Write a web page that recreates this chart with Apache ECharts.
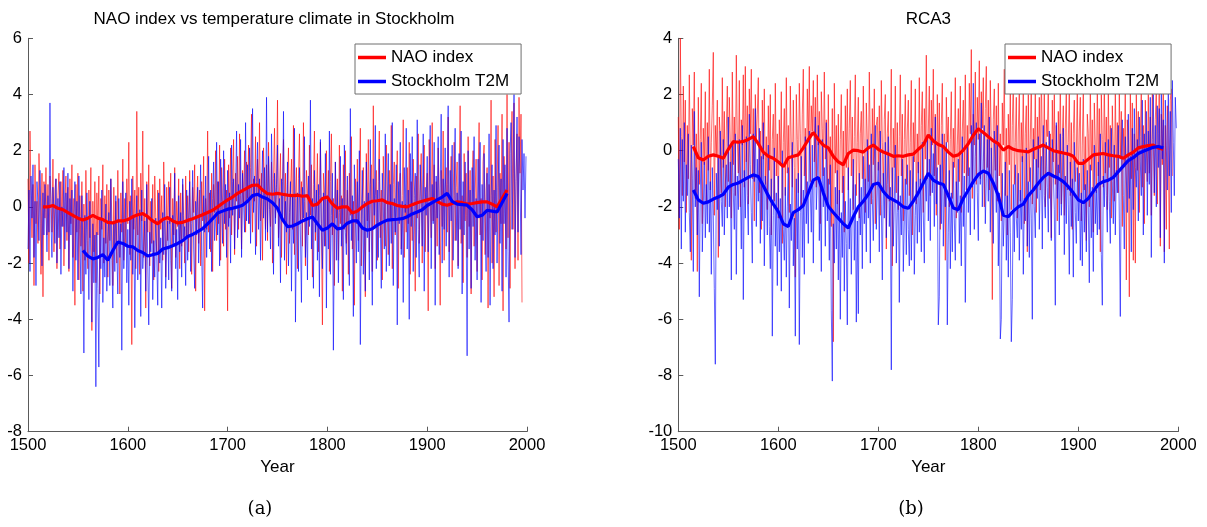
<!DOCTYPE html>
<html>
<head>
<meta charset="utf-8">
<script src="https://cdn.jsdelivr.net/npm/echarts@6/dist/echarts.min.js"></script>
<style>
  html, body { margin: 0; padding: 0; background: #ffffff; }
  #chart { width: 1207px; height: 527px; }
</style>
</head>
<body>
<div id="chart"></div>
<script>
// ---- Data -------------------------------------------------------------
// Annual series start in 1500; running means are sampled every 5 years.
const FIRST_YEAR = 1500;
const SMOOTH_STEP = 5;
const xTicks = [1500, 1600, 1700, 1800, 1900, 2000];
const yRangeA = [-8, 6];
const yRangeB = [-10, 4];
const legendNames = ['NAO index', 'Stockholm T2M'];

// Panel (a): reconstruction, NAO index (annual, 1500-1995)
const naoAnnualA = [
  1.0,-2.0,2.7,0.4,-1.1,0.8,-2.8,1.5,-0.6,0.2,
  -1.3,1.9,0.5,-2.4,1.2,-3.2,0.9,-0.4,1.4,-1.0,
  0.8,-1.9,1.1,0.3,-0.9,1.7,-1.6,0.6,1.0,-2.2,
  0.4,1.2,-1.5,0.9,-0.7,1.3,-2.1,0.2,1.1,-1.2,
  0.7,-2.3,1.0,-0.6,1.5,-1.8,0.3,-3.5,0.8,-0.9,
  1.2,-2.6,0.4,-1.4,0.9,-3.0,0.1,-1.9,1.3,-0.8,
  -2.2,0.6,-1.1,1.4,-4.4,0.2,-1.6,0.9,-2.7,0.5,
  -1.0,1.1,-3.1,0.3,-0.8,1.5,-2.0,0.4,-1.3,0.8,
  -2.5,0.6,-1.2,1.0,-0.4,-2.8,0.7,-1.5,0.2,-2.0,
  1.3,-1.0,-3.1,0.5,-0.9,1.7,-1.9,0.3,-1.4,1.0,
  -0.6,2.3,-1.7,0.4,-4.9,1.1,-0.8,0.6,-2.2,3.4,
  -1.0,0.7,-2.4,1.2,-0.5,2.7,-1.8,0.3,-3.6,0.9,
  -0.9,1.5,-2.1,0.2,-1.3,0.8,-2.6,1.1,-0.4,-1.7,
  0.6,-2.3,1.0,-0.8,0.4,-1.9,1.6,-0.3,-2.5,0.7,
  -1.2,0.9,-0.6,1.2,-2.9,0.3,-1.0,1.4,-1.8,0.2,
  -0.7,1.0,-2.2,0.5,-1.4,0.8,-0.3,-2.0,1.1,-1.1,
  0.4,-1.6,1.3,-0.9,-2.4,0.7,-0.2,1.5,-3.0,0.2,
  1.1,-1.3,0.6,-2.1,0.9,-0.5,1.8,-3.7,0.3,-0.8,
  2.7,-0.9,0.5,-1.6,1.2,-2.3,0.8,-0.2,2.0,-1.2,
  0.9,-0.6,2.2,-1.9,1.4,0.1,-1.4,1.7,-0.8,0.6,
  -3.7,1.5,-0.4,2.1,-1.0,0.9,2.4,-1.7,1.2,0.2,
  1.8,-0.8,2.6,0.4,-1.5,1.3,0.1,2.0,-0.9,1.6,
  0.3,2.2,-0.6,1.4,3.3,-0.9,1.0,0.2,2.5,-1.4,
  1.7,0.4,3.0,-0.5,1.2,-1.9,2.1,0.6,-0.8,1.5,
  -1.2,2.3,0.3,-0.7,1.6,-2.0,1.0,2.8,-0.4,0.7,
  3.8,-1.1,0.6,1.9,-1.8,0.9,2.4,-0.6,1.2,-2.4,
  0.8,2.1,-1.3,0.5,1.7,-0.8,2.9,-1.7,0.3,1.4,
  -2.2,1.0,2.6,-0.5,0.9,-1.4,3.0,0.2,-2.1,1.3,
  0.6,-1.0,2.2,-0.3,1.5,-2.5,0.8,2.7,-1.2,0.1,
  1.9,-1.6,0.4,2.3,-0.9,-4.2,1.2,0.5,-1.4,2.0,
  -0.7,1.3,-2.3,0.9,2.6,-1.0,0.3,-2.8,1.6,-0.4,
  1.0,-1.9,2.2,-0.6,0.4,-3.0,1.5,-0.8,2.0,-1.3,
  0.6,-2.4,1.2,-0.3,2.5,-1.5,0.2,-3.5,1.0,-0.6,
  1.7,-1.2,0.5,2.8,-2.1,0.3,1.4,-0.9,-3.2,1.9,
  -0.5,2.4,-1.6,0.8,1.5,-2.3,3.6,-0.7,0.4,1.3,
  -1.9,0.9,2.7,-1.1,0.6,-2.6,1.8,0.2,-1.4,2.2,
  0.5,-1.7,1.3,-0.4,2.9,-2.2,0.8,1.6,-1.0,0.3,
  2.0,-2.9,0.7,1.2,-1.5,0.4,3.1,-1.8,0.1,-0.9,
  1.4,-0.6,2.3,-2.4,0.9,-1.2,1.7,0.3,-3.0,1.1,
  -0.4,2.6,-1.3,0.6,1.9,-2.0,0.8,2.2,-1.6,0.5,
  1.2,-3.7,2.4,0.3,-1.1,3.0,-0.5,1.5,-2.2,0.9,
  -1.4,2.1,0.4,-3.5,1.3,-0.7,2.7,-1.9,0.6,1.4,
  -0.9,3.2,-1.6,0.5,1.8,-2.5,0.2,2.3,-1.2,0.7,
  1.6,-2.1,0.9,3.6,-1.3,0.4,-2.7,1.9,-0.5,1.2,
  -1.8,2.5,-0.7,1.3,-3.1,0.8,2.0,-1.4,0.5,1.7,
  -2.3,0.9,3.0,-1.0,0.3,-2.6,1.6,2.2,-1.7,0.6,
  1.4,-3.6,0.8,-0.4,3.8,-2.0,1.1,-3.2,2.4,-0.9,
  0.5,2.9,-2.8,1.2,-0.6,3.3,-3.7,1.8,0.4,-1.5,
  4.0,-1.1,2.3,-2.9,1.5,3.4,-0.8,3.7,-2.2,1.0,
  2.6,-1.9,3.9,1.2,3.3,-3.4
];

// Panel (a): Stockholm T2M (annual, 1500-1999)
const t2mAnnualA = [
  -1.5,0.6,-2.3,1.1,-0.4,1.5,-1.8,0.2,-2.8,0.9,
  0.1,-1.2,1.3,-0.6,-2.1,0.5,-1.0,0.8,-0.2,-1.6,
  0.4,-0.9,3.7,-0.5,-1.8,0.7,-0.1,-1.3,1.0,-2.0,
  0.3,-1.1,0.9,-2.4,0.0,-0.7,1.4,-1.5,0.5,-0.9,
  1.2,-2.2,0.3,-1.0,0.6,-3.0,-0.4,0.9,-1.9,0.2,
  -2.6,1.1,-0.8,-3.1,0.4,-1.5,-5.2,-0.3,-2.4,0.5,
  -1.2,-3.3,0.2,-2.0,-4.1,-0.6,-2.7,-1.0,-6.4,-0.9,
  -2.9,-5.7,-0.4,-2.2,0.6,-3.4,-1.1,-2.5,0.1,-3.0,
  -1.3,-0.2,-2.8,1.0,-1.9,-3.6,-0.5,-2.3,0.4,-1.6,
  -3.1,0.3,-1.8,-0.6,-5.1,0.9,-2.2,-1.0,0.5,-2.7,
  -0.8,-3.5,0.2,-1.9,1.0,-2.4,-0.3,-4.3,-1.1,0.4,
  -2.6,-1.0,-0.1,-3.9,0.6,-2.2,-1.4,-0.5,-3.0,0.8,
  -2.1,-4.2,-0.9,-1.6,0.3,-3.3,-1.2,-2.5,-0.4,-1.8,
  -3.5,0.5,-2.0,-1.1,-3.6,-0.2,-1.7,0.8,-2.9,-1.3,
  -0.5,-2.6,0.7,-1.9,-3.0,-0.3,-1.4,1.2,-2.2,-0.8,
  -3.3,0.4,-1.6,-0.2,-2.5,1.0,-1.1,-0.7,-2.8,0.6,
  -1.9,-0.4,0.9,-2.3,-0.6,1.3,-1.5,-2.9,0.2,-1.0,
  0.7,-2.0,-0.3,1.5,-1.6,-3.6,0.4,-0.9,1.1,-1.8,
  -0.2,1.8,-1.5,0.6,-2.3,0.3,1.6,-1.2,-0.4,2.3,
  -1.0,0.9,-2.1,1.7,0.2,-1.3,2.0,-0.6,0.8,-1.8,
  1.3,-0.7,0.5,-2.0,2.2,-0.3,1.0,-1.5,0.6,2.7,
  -1.1,0.8,-0.4,2.4,-1.8,1.2,0.1,-0.9,3.0,-0.5,
  1.5,-0.6,2.1,-1.3,0.7,3.5,-0.2,1.1,-1.7,0.9,
  2.3,-0.8,1.0,-1.9,0.5,2.0,-0.4,1.4,-1.2,3.9,
  -0.9,1.8,-0.1,-1.5,2.6,0.4,-2.4,1.2,-0.6,0.8,
  2.2,-1.4,0.3,-2.7,1.0,-0.5,3.4,-1.9,0.2,-0.9,
  1.6,-2.1,-0.2,0.9,-3.0,0.4,-1.3,2.8,-4.1,-0.6,
  0.5,-2.3,1.4,-1.0,-3.4,0.7,-0.4,2.5,-1.8,-0.2,
  -2.6,1.1,-0.7,3.8,-1.5,0.3,-2.9,1.3,-0.9,0.6,
  -1.9,0.8,-3.2,2.4,-0.6,-2.2,0.5,-1.4,1.9,-3.6,
  0.4,-1.5,2.7,-2.4,-0.3,1.2,-5.1,-0.8,1.6,-1.9,
  0.6,-2.7,-0.2,1.8,-1.4,0.3,-3.3,2.2,-0.9,-1.7,
  1.1,-0.6,-2.8,3.5,-1.2,0.4,-3.9,1.5,-0.4,-2.0,
  0.9,-1.6,2.0,-4.9,-0.5,1.3,-2.4,0.2,-3.0,1.6,
  -1.1,0.5,-2.6,2.4,-0.8,-3.5,1.0,-0.3,2.9,-2.2,
  0.6,-1.8,1.7,-0.7,-2.9,1.2,0.0,-1.5,2.6,-2.3,
  -0.4,1.9,-2.1,0.8,-1.3,3.0,-2.8,0.3,-0.9,1.5,
  -4.2,0.9,-0.6,2.3,-1.7,0.2,-3.4,1.4,-0.2,2.8,
  -1.5,0.6,-4.0,1.9,-0.7,2.5,-2.3,0.4,1.2,-1.8,
  3.1,-0.8,-2.5,1.5,0.2,-1.4,2.6,-3.0,0.7,-0.3,
  1.8,-1.6,0.5,2.9,-2.2,0.8,-0.6,2.3,-3.5,1.1,
  -0.4,2.5,-1.7,0.6,3.3,-2.0,1.0,-0.8,2.1,-1.4,
  0.8,3.6,-2.5,1.3,-0.5,2.2,-1.9,0.4,2.8,-1.2,
  0.5,-2.2,1.9,-0.8,2.7,-3.1,0.9,-1.0,1.6,-0.3,
  -5.3,2.0,-1.5,0.6,-2.9,1.4,-0.7,2.5,-1.9,0.3,
  -2.6,1.7,-0.4,2.3,-3.4,0.8,-1.2,1.9,-0.5,-2.3,
  1.2,-1.8,2.6,-3.5,0.4,1.5,-2.2,0.6,-1.0,2.9,
  -2.0,0.7,2.2,-1.3,1.0,-3.0,2.4,-0.6,1.5,-2.5,
  2.8,-1.6,-4.1,1.9,3.0,-0.8,1.2,4.0,-1.8,0.9,
  3.2,-0.9,2.5,1.1,-1.7,2.4,0.6,1.9,-0.4,1.8
];

// Panel (a): running means (NAO from 1515, T2M from 1555, both to 1980)
const naoSmoothStartA = 1515;
const naoSmoothA = [
  0.0,0.0,0.05,-0.05,-0.1,-0.2,-0.3,-0.4,-0.47,-0.4,
  -0.3,-0.4,-0.45,-0.55,-0.57,-0.5,-0.5,-0.45,-0.35,-0.28,
  -0.24,-0.35,-0.5,-0.6,-0.45,-0.38,-0.5,-0.57,-0.55,-0.48,
  -0.42,-0.35,-0.28,-0.2,-0.12,0.0,0.13,0.25,0.35,0.48,
  0.58,0.68,0.77,0.78,0.6,0.47,0.45,0.48,0.45,0.42,
  0.4,0.42,0.38,0.4,0.05,0.1,0.3,0.35,0.1,-0.05,
  0.0,0.0,-0.22,-0.15,0.0,0.12,0.2,0.22,0.25,0.15,
  0.12,0.05,0.02,0.0,0.08,0.15,0.2,0.25,0.3,0.2,
  0.1,0.06,0.12,0.18,0.15,0.1,0.12,0.15,0.18,0.18,
  0.1,0.0,0.3,0.6
];
const t2mSmoothStartA = 1555;
const t2mSmoothA = [
  -1.55,-1.75,-1.85,-1.8,-1.7,-1.9,-1.55,-1.25,-1.3,-1.4,
  -1.42,-1.55,-1.62,-1.75,-1.7,-1.66,-1.5,-1.45,-1.38,-1.3,
  -1.2,-1.05,-0.98,-0.88,-0.77,-0.6,-0.42,-0.22,-0.15,-0.08,
  -0.05,0.0,0.06,0.2,0.4,0.45,0.35,0.28,0.15,-0.05,
  -0.45,-0.7,-0.68,-0.6,-0.5,-0.42,-0.36,-0.6,-0.83,-0.75,
  -0.6,-0.78,-0.75,-0.58,-0.5,-0.5,-0.75,-0.83,-0.78,-0.65,
  -0.55,-0.47,-0.45,-0.44,-0.42,-0.35,-0.25,-0.18,-0.1,0.05,
  0.15,0.25,0.35,0.48,0.2,0.1,0.08,0.06,-0.1,-0.35,
  -0.3,-0.12,-0.15,-0.18,0.15,0.48
];

// Panel (b): RCA3, NAO index (annual, 1500-1994)
const naoAnnualB = [
  1.2,-2.8,4.0,0.5,-1.6,2.3,-0.4,1.8,-2.2,0.9,
  -1.0,2.7,-0.3,-3.9,1.5,0.2,2.8,-1.7,0.6,-4.3,
  1.9,-1.2,0.4,2.4,-2.6,0.8,-0.5,2.1,-1.9,1.0,
  -0.7,2.9,-1.4,0.3,1.6,3.5,-2.3,0.9,-0.2,1.8,
  -3.8,1.2,0.5,-1.5,2.6,-0.6,1.4,-2.0,0.7,2.3,
  -1.1,1.9,0.3,-2.4,2.8,-0.5,1.2,-1.6,3.4,0.4,
  -0.8,2.5,-2.0,1.1,0.2,2.7,-1.3,3.0,-0.4,1.6,
  -1.9,2.2,0.6,2.9,-1.0,1.5,-2.5,2.0,0.3,1.3,
  2.6,-1.5,0.7,-2.8,1.8,-0.3,2.2,-1.2,0.5,-2.1,
  1.6,-0.7,2.0,-3.0,0.4,1.3,-1.8,2.4,-0.9,0.6,
  -2.4,1.1,-0.5,2.1,-3.3,0.3,1.5,-1.6,2.6,-0.8,
  0.9,-2.2,2.3,0.1,-1.3,1.8,-0.6,-4.5,2.0,0.4,
  -1.5,2.4,0.6,-2.0,1.3,2.9,-0.9,0.8,-1.7,2.2,
  0.3,3.0,-1.1,1.6,0.7,2.5,-0.4,1.9,-1.3,2.7,
  0.2,1.4,-2.6,2.1,0.8,-0.9,2.8,-0.3,1.1,-1.8,
  2.0,-1.2,0.5,-2.7,1.5,-6.8,2.4,-0.8,0.9,-1.9,
  1.3,-2.3,0.4,2.0,-1.5,0.7,-2.9,1.6,-0.6,2.2,
  -1.4,0.8,2.5,-0.9,1.2,-2.1,0.5,2.7,-1.6,0.3,
  1.9,-2.4,0.6,1.4,-1.0,2.3,-0.3,-2.2,1.7,0.4,
  -1.1,2.8,0.2,-1.9,1.5,-0.5,2.2,-2.6,0.9,1.2,
  -0.7,1.6,-2.3,2.5,0.3,-1.4,1.1,2.0,-3.5,0.6,
  1.4,-1.8,0.2,2.9,-4.1,0.8,-0.6,2.3,-1.5,1.0,
  -2.1,0.5,2.7,-0.9,1.3,-2.5,0.4,2.0,-1.2,0.7,
  1.8,-1.6,0.3,2.5,-3.0,1.0,-0.4,2.2,-1.9,0.6,
  -0.8,2.6,-1.3,0.9,2.1,-2.2,1.5,-0.3,3.4,-1.0,
  0.7,2.3,-1.6,1.8,0.2,2.9,-0.9,1.3,-2.3,2.0,
  -0.5,1.7,-2.8,0.9,2.4,-1.2,0.6,-3.9,1.9,0.3,
  1.2,-2.0,0.4,2.1,-1.7,0.8,-0.6,2.6,-2.4,0.2,
  1.5,-1.1,2.3,-2.2,0.7,1.8,-0.8,2.7,-1.4,0.9,
  -0.9,2.4,0.6,3.6,-1.7,1.3,0.2,2.8,-1.2,1.9,
  0.4,3.2,-1.0,2.1,0.8,2.6,-2.0,1.5,3.0,-0.6,
  1.8,-1.4,2.5,0.3,-5.3,1.1,2.2,-0.7,1.6,-1.8,
  2.4,-0.9,0.6,-2.5,1.7,0.2,2.9,-1.6,0.8,-3.0,
  1.3,-0.5,2.2,-2.1,0.9,2.6,-1.2,0.3,1.9,-2.4,
  0.7,2.1,-1.8,1.0,-0.4,2.5,-2.6,0.6,1.6,-3.6,
  2.0,-1.1,0.4,2.6,-1.9,0.8,-0.3,2.2,-2.2,1.2,
  -0.6,1.9,-1.4,2.8,0.3,-1.0,2.3,-2.0,1.1,0.5,
  2.5,-1.7,0.6,-3.1,1.8,-0.4,2.0,-1.2,0.9,-2.5,
  1.4,-0.8,2.7,-1.9,0.5,1.6,-2.3,0.8,2.1,-1.4,
  0.3,2.2,-1.6,1.0,-2.8,0.6,1.8,-1.1,-0.3,2.4,
  -1.8,0.7,1.9,-2.5,0.2,2.1,-1.4,0.5,-3.2,1.3,
  0.6,-2.0,2.4,-0.7,1.1,-2.9,1.7,0.2,-1.5,2.5,
  -0.9,1.5,-3.6,2.0,0.4,-1.3,2.6,-0.8,1.2,-2.1,
  2.2,-0.6,0.9,-2.4,1.6,0.1,-1.8,2.4,-0.9,1.0,
  -1.5,2.1,-0.3,1.4,-2.7,0.8,-0.5,2.6,-4.6,1.1,
  0.3,-5.2,2.3,-1.0,1.7,-3.9,0.6,-4.0,2.0,-0.7,
  1.4,-2.2,0.5,2.3,-1.3,0.9,-2.6,1.8,0.2,-1.1,
  2.0,-0.8,1.2,-2.3,2.5,0.3,-1.6,1.1,2.2,-1.9,
  0.6,2.4,-3.4,1.3,-0.5,2.7,-3.6,0.9,-2.8,1.6,
  0.2,-3.5,1.8,2.2,-0.9
];

// Panel (b): Stockholm T2M (annual, 1500-1998)
const t2mAnnualB = [
  -0.3,-2.4,0.8,-3.5,0.4,-1.8,1.0,-2.9,-0.5,-1.6,
  0.6,-2.2,-3.6,0.2,-1.0,-4.3,1.4,-2.0,-0.6,-3.0,
  -0.7,-5.2,-1.4,0.3,-3.6,-2.0,-0.4,-3.1,-1.2,-2.6,
  0.5,-2.9,-1.1,-4.4,-0.6,-2.3,-4.9,-7.6,-0.8,-2.1,
  -0.2,-3.4,0.7,-1.8,-2.7,0.4,-3.0,-1.2,-0.5,-2.4,
  1.2,-2.0,-0.4,-4.6,0.3,-1.5,-2.8,0.6,-4.4,-0.9,
  -2.1,0.4,-1.3,-3.5,0.9,-5.3,-0.7,-2.4,0.5,-1.6,
  -3.0,1.3,-0.5,-2.2,-4.0,0.6,-1.1,1.5,-2.7,-0.3,
  -1.8,0.8,-3.3,-0.2,-2.5,1.0,-4.1,-0.9,-1.4,-3.0,
  0.2,-2.7,-4.2,-1.0,-6.6,-2.3,0.1,-3.4,-1.5,-4.8,
  -0.9,-3.6,-1.7,-5.0,0.0,-2.8,-3.9,-1.3,-4.5,-2.0,
  -0.6,-5.6,-1.9,-3.2,0.3,-4.1,-2.4,-6.6,-1.0,-3.5,
  -0.8,-6.9,-2.2,-0.2,-3.8,-1.4,-4.4,0.5,-2.6,-1.1,
  -3.3,0.7,-1.5,-2.9,0.2,-4.0,-0.4,1.2,-2.1,-1.0,
  0.9,-3.2,-1.2,-4.3,0.4,-2.0,-0.6,-3.4,1.0,-2.5,
  -1.0,-3.9,-0.5,-5.7,-8.2,-2.6,-4.0,-1.3,-3.5,-0.7,
  -4.6,-1.4,-6.0,-2.2,-3.8,-0.9,-5.0,-1.8,-3.3,-6.2,
  -0.6,-3.5,-1.7,-4.4,-2.0,-0.3,-3.9,-1.2,-6.1,-2.5,
  -5.8,-0.8,-3.0,-1.3,-4.2,-0.2,-2.6,-1.0,-3.6,0.4,
  -2.4,-0.5,-4.0,0.6,-1.7,-3.2,-0.3,0.9,-2.8,-1.4,
  -0.4,-3.6,0.7,-1.9,-4.6,-0.8,-2.4,0.3,-3.1,-1.2,
  0.5,-2.7,-1.3,-7.8,-0.6,-3.4,-1.9,0.2,-4.0,-2.2,
  -0.9,-5.4,-1.6,-3.0,-0.3,-4.3,-2.5,-1.0,-3.7,-0.5,
  -2.8,-4.1,-0.7,-3.9,-1.5,-0.2,-4.4,-2.3,-1.1,-3.3,
  -0.4,-2.9,-1.0,-3.6,0.3,-2.2,-4.0,-0.9,-1.8,0.5,
  -2.5,-0.3,-3.2,0.8,-1.5,-0.1,-2.7,1.2,-1.9,-0.6,
  -6.2,-5.2,-0.5,-2.6,0.6,-3.4,-1.2,-2.0,0.3,-6.2,
  -2.9,-0.7,-4.2,-1.5,-3.6,-0.4,-2.4,-3.9,-1.1,-2.2,
  -0.3,-3.3,-1.6,-4.1,0.5,-2.7,-0.9,-5.4,-1.9,0.2,
  -2.2,-0.6,-3.0,0.9,-1.3,2.4,-2.8,-0.2,1.0,-1.5,
  -3.2,0.6,-1.2,1.7,-2.0,-0.4,0.9,-2.6,-1.0,0.4,
  -1.8,1.2,-2.9,0.1,-1.4,-3.3,0.7,-0.6,-2.2,0.9,
  -4.1,-1.5,-6.7,-6.0,-0.8,-3.4,-2.2,-0.4,-3.9,-1.6,
  -4.5,-0.7,-2.9,-6.8,-5.3,-1.2,-3.6,-0.5,-2.4,-3.1,
  -0.8,-3.9,-1.4,-2.8,-0.2,-4.4,-1.7,-2.5,0.1,-3.4,
  -1.1,-3.8,-0.6,-2.4,-6.0,0.4,-2.0,-3.1,-0.3,-1.7,
  0.5,-2.8,-1.1,-0.2,-3.5,0.9,-1.6,-2.4,0.3,-1.3,
  -2.9,0.7,-1.4,-3.2,0.4,-0.8,-2.1,-5.5,1.0,-1.7,
  -0.5,-3.0,0.6,-2.3,-1.2,0.8,-3.7,-0.9,-2.6,0.2,
  -1.9,-4.4,-0.4,-2.7,-1.0,-4.5,0.3,-2.2,-3.3,-0.6,
  -2.5,-0.8,-3.9,-1.5,-4.1,-0.3,-2.9,-1.2,-3.6,-0.7,
  -2.0,-4.7,-0.5,-3.1,-1.3,-4.3,0.2,-2.6,-1.4,-3.0,
  -0.4,-2.8,0.6,-3.7,-5.5,-0.9,-2.0,0.3,-1.6,-2.9,
  0.4,-1.8,-3.3,0.8,-1.1,-2.6,0.2,-3.0,-0.7,-1.5,
  0.9,-2.4,-5.9,-0.3,1.1,-1.6,-3.5,0.5,-0.9,-2.2,
  1.3,-1.7,-0.2,-3.6,0.8,-2.1,1.5,-0.6,-1.3,0.4,
  -2.5,1.2,-0.4,-1.6,1.8,-3.0,0.6,-0.8,1.4,-2.3,
  0.7,-1.2,1.9,-3.8,0.4,2.0,-1.5,0.9,-2.0,1.6,
  -0.6,1.5,-3.1,2.2,-0.3,1.1,-4.0,1.8,0.2,-1.4,
  2.1,-0.9,1.4,-2.2,2.5,0.3,-1.6,1.9,0.8
];

// Panel (b): running means (1515-1985)
const smoothStartB = 1515;
const naoSmoothB = [
  0.15,-0.25,-0.33,-0.2,-0.15,-0.2,-0.27,0.05,0.32,0.3,
  0.33,0.4,0.5,0.25,-0.05,-0.2,-0.27,-0.4,-0.57,-0.25,
  -0.2,-0.15,0.1,0.4,0.65,0.4,0.2,0.1,-0.2,-0.4,
  -0.5,-0.1,0.02,0.0,-0.05,0.1,0.2,0.05,-0.05,-0.12,
  -0.2,-0.18,-0.2,-0.15,-0.12,0.05,0.2,0.56,0.35,0.22,
  0.15,-0.05,-0.2,-0.15,0.02,0.25,0.55,0.78,0.65,0.5,
  0.35,0.25,0.02,0.15,0.05,0.0,-0.02,-0.04,0.05,0.12,
  0.2,0.1,0.0,-0.04,-0.08,-0.12,-0.2,-0.45,-0.45,-0.3,
  -0.15,-0.12,-0.1,-0.15,-0.18,-0.2,-0.27,-0.15,-0.05,0.1,
  0.15,0.18,0.2,0.1,0.05
];
const t2mSmoothB = [
  -1.4,-1.75,-1.87,-1.82,-1.72,-1.65,-1.55,-1.3,-1.2,-1.15,
  -1.05,-0.95,-0.86,-0.92,-1.25,-1.6,-1.9,-2.17,-2.6,-2.7,
  -2.2,-2.1,-1.95,-1.5,-1.05,-0.95,-1.5,-1.98,-2.2,-2.4,
  -2.6,-2.75,-2.35,-2.0,-1.8,-1.55,-1.2,-1.15,-1.45,-1.65,
  -1.75,-1.85,-2.0,-2.05,-1.8,-1.5,-1.15,-0.8,-1.05,-1.15,
  -1.2,-1.6,-2.04,-2.1,-1.7,-1.4,-1.1,-0.85,-0.72,-0.8,
  -1.15,-1.6,-2.3,-2.35,-2.15,-2.0,-1.9,-1.6,-1.4,-1.16,
  -0.95,-0.8,-0.9,-0.98,-1.1,-1.28,-1.5,-1.75,-1.85,-1.7,
  -1.45,-1.2,-1.1,-1.05,-0.95,-0.75,-0.55,-0.35,-0.25,-0.1,
  -0.02,0.05,0.12,0.15,0.1
];

// ---- Helpers -----------------------------------------------------------
const annual = (values, start) => values.map((v, i) => [start + i, v]);
const smoothed = (values, start) => values.map((v, i) => [start + i * SMOOTH_STEP, v]);

const FONT = "'Liberation Sans', Arial, Helvetica, sans-serif";
const SERIF = "'DejaVu Serif', 'Liberation Serif', serif";
const RED = '#ff0000';
const BLUE = '#0000ff';
const AXIS_COLOR = '#5a5a5a';

function xAxisFor(gridIndex) {
  return {
    type: 'value', gridIndex,
    min: xTicks[0], max: xTicks[xTicks.length - 1], interval: 100,
    name: 'Year', nameLocation: 'middle', nameGap: 21,
    nameTextStyle: { fontFamily: FONT, fontSize: 17, color: '#000' },
    axisLine: { show: true, onZero: false, lineStyle: { color: AXIS_COLOR, width: 1 } },
    axisTick: { show: true, inside: true, length: 5, lineStyle: { color: AXIS_COLOR } },
    axisLabel: { fontFamily: FONT, fontSize: 16.5, color: '#000', margin: 5, formatter: v => String(v) },
    splitLine: { show: false }
  };
}
function yAxisFor(gridIndex, range) {
  return {
    type: 'value', gridIndex,
    min: range[0], max: range[1], interval: 2,
    axisLine: { show: true, onZero: false, lineStyle: { color: AXIS_COLOR, width: 1 } },
    axisTick: { show: true, inside: true, length: 5, lineStyle: { color: AXIS_COLOR } },
    axisLabel: { fontFamily: FONT, fontSize: 16.5, color: '#000', margin: 6, formatter: v => String(v) },
    splitLine: { show: false }
  };
}
function thin(name, data, color, idx) {
  return {
    type: 'line', name, data, xAxisIndex: idx, yAxisIndex: idx,
    showSymbol: false, symbol: 'none', animation: false, silent: true,
    lineStyle: { color, width: 1, opacity: 0.6 }, itemStyle: { color }
  };
}
function thick(name, data, color, idx) {
  return {
    type: 'line', name, data, xAxisIndex: idx, yAxisIndex: idx,
    showSymbol: false, symbol: 'none', animation: false, silent: true,
    lineStyle: { color, width: 3.2 }, itemStyle: { color }
  };
}
function legendAt(left) {
  return {
    left, top: 44, orient: 'vertical',
    data: legendNames.map(name => ({ name, icon: 'rect' })),
    selectedMode: false,
    itemWidth: 28, itemHeight: 3.5, itemGap: 5,
    padding: [4, 12, 3, 3],
    backgroundColor: '#ffffff', borderColor: '#6e6e6e', borderWidth: 1, borderRadius: 0,
    textStyle: { fontFamily: FONT, fontSize: 17, color: '#000', lineHeight: 19 },
    z: 20
  };
}

const chart = echarts.init(document.getElementById('chart'), null, { renderer: 'canvas' });
chart.setOption({
  animation: false,
  backgroundColor: '#ffffff',
  grid: [
    { left: 28, top: 38.3, width: 499, height: 393.4, containLabel: false },
    { left: 678.3, top: 38.3, width: 500, height: 393.4, containLabel: false }
  ],
  xAxis: [xAxisFor(0), xAxisFor(1)],
  yAxis: [yAxisFor(0, yRangeA), yAxisFor(1, yRangeB)],
  legend: [legendAt(355), legendAt(1005)],
  graphic: [
    { type: 'text', x: 274, y: 11, style: { text: 'NAO index vs temperature climate in Stockholm', font: '17px ' + FONT, fill: '#000', align: 'center', textAlign: 'center' } },
    { type: 'text', x: 928.3, y: 11, style: { text: 'RCA3', font: '17px ' + FONT, fill: '#000', align: 'center', textAlign: 'center' } },
    { type: 'text', x: 260, y: 500, style: { text: '(a)', font: '18px ' + SERIF, fill: '#000', align: 'center', textAlign: 'center' } },
    { type: 'text', x: 911, y: 500, style: { text: '(b)', font: '18px ' + SERIF, fill: '#000', align: 'center', textAlign: 'center' } }
  ],
  // Annual curves first, running means drawn over them
  series: [
    thin('NAO annual (a)', annual(naoAnnualA, FIRST_YEAR), RED, 0),
    thin('T2M annual (a)', annual(t2mAnnualA, FIRST_YEAR), BLUE, 0),
    thick('NAO index', smoothed(naoSmoothA, naoSmoothStartA), RED, 0),
    thick('Stockholm T2M', smoothed(t2mSmoothA, t2mSmoothStartA), BLUE, 0),
    thin('NAO annual (b)', annual(naoAnnualB, FIRST_YEAR), RED, 1),
    thin('T2M annual (b)', annual(t2mAnnualB, FIRST_YEAR), BLUE, 1),
    thick('NAO index', smoothed(naoSmoothB, smoothStartB), RED, 1),
    thick('Stockholm T2M', smoothed(t2mSmoothB, smoothStartB), BLUE, 1)
  ]
});
</script>
</body>
</html>
